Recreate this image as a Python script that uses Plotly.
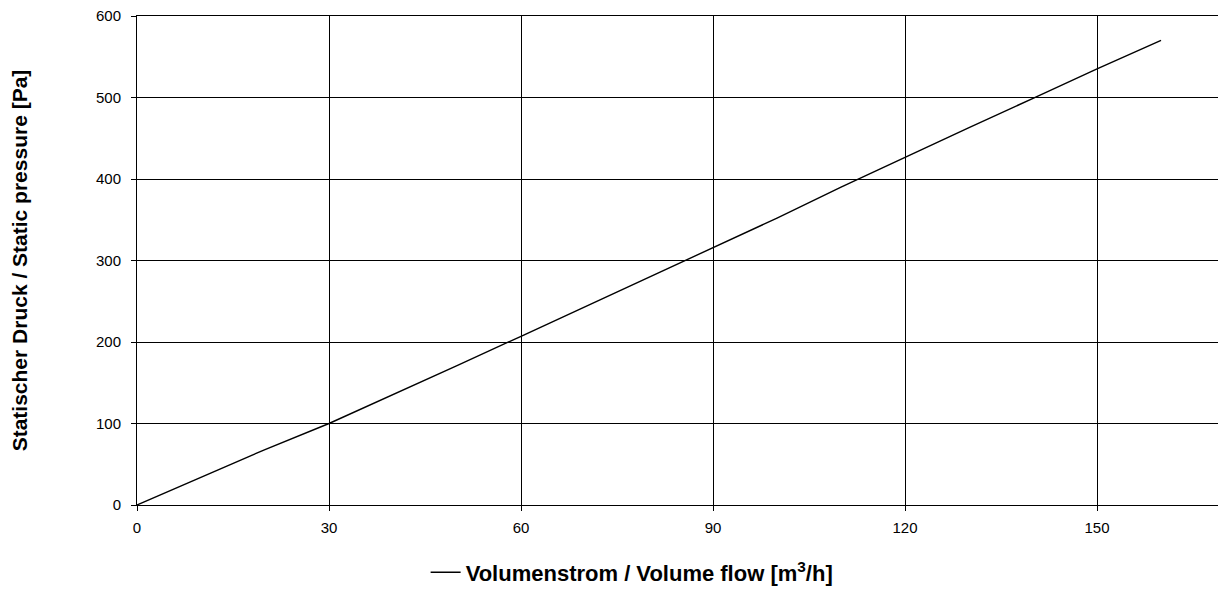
import plotly.graph_objects as go

volume_flow = [0, 10, 20, 30, 40, 50, 60, 70, 80, 90, 100, 110, 120, 130, 140, 150, 160]
static_pressure = [0, 34, 68, 100, 135, 171, 207, 243, 279, 315, 352, 390, 427, 463, 499, 535, 570]

x_ticks = [0, 30, 60, 90, 120, 150]
y_ticks = [0, 100, 200, 300, 400, 500, 600]

series_name = "<b>Volumenstrom / Volume flow [m<sup>3</sup>/h]</b>"
y_title = "<b>Statischer Druck / Static pressure [Pa]</b>"

fig = go.Figure()
fig.add_trace(go.Scatter(
    x=volume_flow, y=static_pressure, mode="lines",
    line=dict(color="black", width=1.4),
    name=series_name, showlegend=True,
))

fig.update_layout(
    width=1210, height=580,
    margin=dict(l=129, r=0, t=8, b=83, autoexpand=False),
    paper_bgcolor="white", plot_bgcolor="white",
    font=dict(family="Liberation Sans, Arial, sans-serif", color="black", size=15),
    showlegend=True,
    legend=dict(
        orientation="h", x=0.267, xanchor="left", y=-0.138, yanchor="middle",
        font=dict(size=22, color="black"), bgcolor="rgba(0,0,0,0)",
    ),
    xaxis=dict(
        range=[0, 168.9], tickvals=x_ticks, showgrid=True, gridcolor="black", gridwidth=1,
        showline=True, linecolor="black", linewidth=1, mirror=True,
        ticks="outside", ticklen=5, tickcolor="black", zeroline=False,
        tickfont=dict(size=15), ticklabelstandoff=4, ticklabeloverflow="allow",
    ),
    yaxis=dict(
        range=[0, 600], tickvals=y_ticks, showgrid=True, gridcolor="black", gridwidth=1,
        showline=True, linecolor="black", linewidth=1, mirror=False,
        ticks="outside", ticklen=5, tickcolor="black", zeroline=False,
        tickfont=dict(size=15), ticklabelstandoff=7, ticklabeloverflow="allow",
        title=dict(text=y_title, font=dict(size=21), standoff=64),
    ),
)

fig.write_html("out.html")
